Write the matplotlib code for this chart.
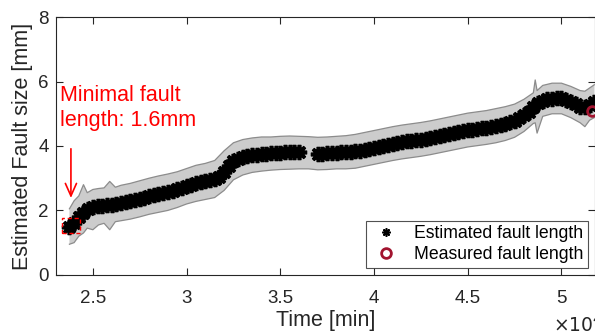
import matplotlib
matplotlib.use("Agg")
import matplotlib.pyplot as plt
from matplotlib.lines import Line2D
from matplotlib.patches import Rectangle
from matplotlib.ticker import FuncFormatter

plt.rcParams["font.family"] = ["Liberation Sans", "DejaVu Sans"]

# estimated fault length (time in minutes)
est_time = [
    23750, 24000, 24250, 24500, 24750, 25000, 25250, 25500, 25750, 26000,
    26250, 26500, 26750, 27000, 27250, 27500, 27750, 28000, 28250, 28500,
    28750, 29000, 29250, 29500, 29750, 30000, 30250, 30500, 30750, 31000,
    31250, 31500, 31750, 32000, 32250, 32500, 32750, 33000, 33250, 33500,
    33750, 34000, 34250, 34500, 34750, 35000, 35250, 35500, 35750, 36000,
    37000, 37250, 37500, 37750, 38000, 38250, 38500, 38750, 39000, 39250,
    39500, 39750, 40000, 40250, 40500, 40750, 41000, 41250, 41500, 41750,
    42000, 42250, 42500, 42750, 43000, 43250, 43500, 43750, 44000, 44250,
    44500, 44750, 45000, 45250, 45500, 45750, 46000, 46250, 46500, 46750,
    47000, 47250, 47500, 47750, 48000, 48250, 48500, 48750, 49000, 49250,
    49500, 49750, 50000, 50250, 50500, 50750, 51000, 51250, 51500, 51750,
]
est_size = [
    1.50, 1.62, 1.80, 1.93, 2.03, 2.10, 2.13, 2.15, 2.17, 2.18,
    2.20, 2.23, 2.26, 2.29, 2.32, 2.36, 2.40, 2.44, 2.47, 2.50,
    2.53, 2.56, 2.60, 2.65, 2.70, 2.75, 2.80, 2.84, 2.87, 2.90,
    2.93, 2.97, 3.05, 3.20, 3.38, 3.52, 3.60, 3.65, 3.68, 3.71,
    3.73, 3.75, 3.76, 3.77, 3.78, 3.79, 3.80, 3.80, 3.81, 3.80,
    3.75, 3.76, 3.77, 3.78, 3.79, 3.80, 3.80, 3.81, 3.83, 3.86,
    3.89, 3.92, 3.95, 3.98, 4.01, 4.04, 4.07, 4.10, 4.12, 4.14,
    4.16, 4.18, 4.20, 4.22, 4.25, 4.28, 4.31, 4.34, 4.37, 4.40,
    4.43, 4.46, 4.49, 4.51, 4.53, 4.55, 4.57, 4.59, 4.62, 4.65,
    4.69, 4.73, 4.78, 4.86, 4.95, 5.05, 5.20, 5.33, 5.40, 5.45,
    5.47, 5.49, 5.48, 5.43, 5.36, 5.30, 5.22, 5.20, 5.28, 5.38,
]

# confidence band
band_time = [
    23750, 24000, 24250, 24500, 24700, 25000, 25300, 25600, 25900, 26200,
    26500, 27000, 27500, 28000, 28500, 29000, 29500, 30000, 30500, 31000,
    31500, 32000, 32500, 33000, 33500, 34000, 34500, 35000, 35500, 36000,
    36500, 37000, 37500, 38000, 38500, 39000, 39500, 40000, 40500, 41000,
    41500, 42000, 42500, 43000, 43500, 44000, 44500, 45000, 45500, 46000,
    46500, 47000, 47500, 48000, 48500, 48600, 48700, 49000, 49500, 50000,
    50500, 51000, 51250, 51500, 51750,
]
band_upper = [
    2.05, 2.30, 2.45, 2.80, 2.55, 2.65, 2.68, 2.70, 2.90, 2.72,
    2.78, 2.84, 2.92, 3.00, 3.07, 3.13, 3.20, 3.30, 3.40, 3.46,
    3.55, 3.85, 4.10, 4.20, 4.25, 4.28, 4.28, 4.30, 4.31, 4.30,
    4.29, 4.27, 4.28, 4.30, 4.32, 4.36, 4.42, 4.48, 4.54, 4.60,
    4.65, 4.69, 4.73, 4.78, 4.84, 4.90, 4.96, 5.02, 5.06, 5.10,
    5.16, 5.22, 5.30, 5.45, 5.65, 6.05, 5.72, 5.88, 5.95, 5.95,
    5.85, 5.72, 5.70, 5.80, 5.90,
]
band_lower = [
    0.95, 1.00, 1.20, 1.30, 1.45, 1.40, 1.55, 1.60, 1.40, 1.65,
    1.68, 1.73, 1.80, 1.88, 1.94, 2.00, 2.09, 2.20, 2.28, 2.34,
    2.40, 2.62, 2.95, 3.10, 3.18, 3.22, 3.25, 3.27, 3.28, 3.29,
    3.29, 3.26, 3.27, 3.29, 3.29, 3.31, 3.37, 3.43, 3.49, 3.55,
    3.60, 3.64, 3.68, 3.73, 3.79, 3.85, 3.91, 3.97, 4.01, 4.05,
    4.10, 4.17, 4.27, 4.45, 4.70, 4.72, 4.40, 4.92, 5.00, 5.00,
    4.88, 4.72, 4.60, 4.80, 4.88,
]

measured_time = [51630]
measured_size = [5.08]

TEXT = "#262626"
MEASURED = "#a2142f"

fig = plt.figure(figsize=(5.95, 3.36), dpi=100)
ax = fig.add_axes([0.094, 0.182, 0.906, 0.767])

ax.fill_between(band_time, band_lower, band_upper, color="#cccccc",
                edgecolor="none", zorder=1)
ax.plot(band_time, band_upper, color="#8c8c8c", lw=0.9, zorder=2)
ax.plot(band_time, band_lower, color="#8c8c8c", lw=0.9, zorder=2)

ax.plot(est_time, est_size, linestyle="none", marker=(8, 2, 0), color="black",
        markersize=11, markeredgewidth=2.6, zorder=3)
ax.plot(measured_time, measured_size, linestyle="none", marker="o", markersize=7,
        markerfacecolor="none", markeredgecolor=MEASURED, markeredgewidth=2,
        zorder=4)

# minimal fault annotation
ax.add_patch(Rectangle((23350, 1.30), 960, 0.47, fill=False, edgecolor="red",
                       linestyle=(0, (3, 2)), lw=1, zorder=5))
ax.annotate("", xy=(23830, 2.30), xytext=(23830, 4.0),
            arrowprops=dict(arrowstyle="->,head_length=0.9,head_width=0.4",
                            color="red", lw=1.2))
ax.text(23240, 5.18, "Minimal fault\nlength: 1.6mm", color="red", fontsize=15.5,
        ha="left", va="center", linespacing=1.3)

ax.set_xlim(23030, 51790)
ax.set_ylim(0, 8)
ax.set_xticks([25000, 30000, 35000, 40000, 45000, 50000])
ax.set_yticks([0, 2, 4, 6, 8])
ax.xaxis.set_major_formatter(FuncFormatter(lambda v, p: f"{v / 1e4:g}"))
ax.tick_params(direction="in", length=5, width=0.8, top=True, right=True,
               labelsize=13.5, colors=TEXT)
ax.tick_params(axis="x", pad=11)
ax.tick_params(axis="y", pad=5)
for spine in ax.spines.values():
    spine.set_color(TEXT)
    spine.set_linewidth(0.8)

ax.set_xlabel("Time [min]", fontsize=15.5, color=TEXT, labelpad=2)
ax.set_ylabel("Estimated Fault size [mm]", fontsize=15.5, color=TEXT, labelpad=4)
ax.text(0.922, -0.155, r"$\times10^4$", transform=ax.transAxes, fontsize=13.5,
        color=TEXT, ha="left", va="top")

handles = [
    Line2D([], [], linestyle="none", marker=(8, 2, 0), color="black",
           markersize=6, markeredgewidth=1.2, label="Estimated fault length"),
    Line2D([], [], linestyle="none", marker="o", markersize=7,
           markerfacecolor="none", markeredgecolor=MEASURED, markeredgewidth=2,
           label="Measured fault length"),
]
leg = ax.legend(handles=handles, loc="lower right", fontsize=12.7, frameon=True,
                fancybox=False, borderaxespad=0.4, handletextpad=0.7,
                borderpad=0.25, labelspacing=0.25, handlelength=1.8)
leg.get_frame().set_edgecolor(TEXT)
leg.get_frame().set_linewidth(0.8)

fig.savefig("out.png", dpi=100)
